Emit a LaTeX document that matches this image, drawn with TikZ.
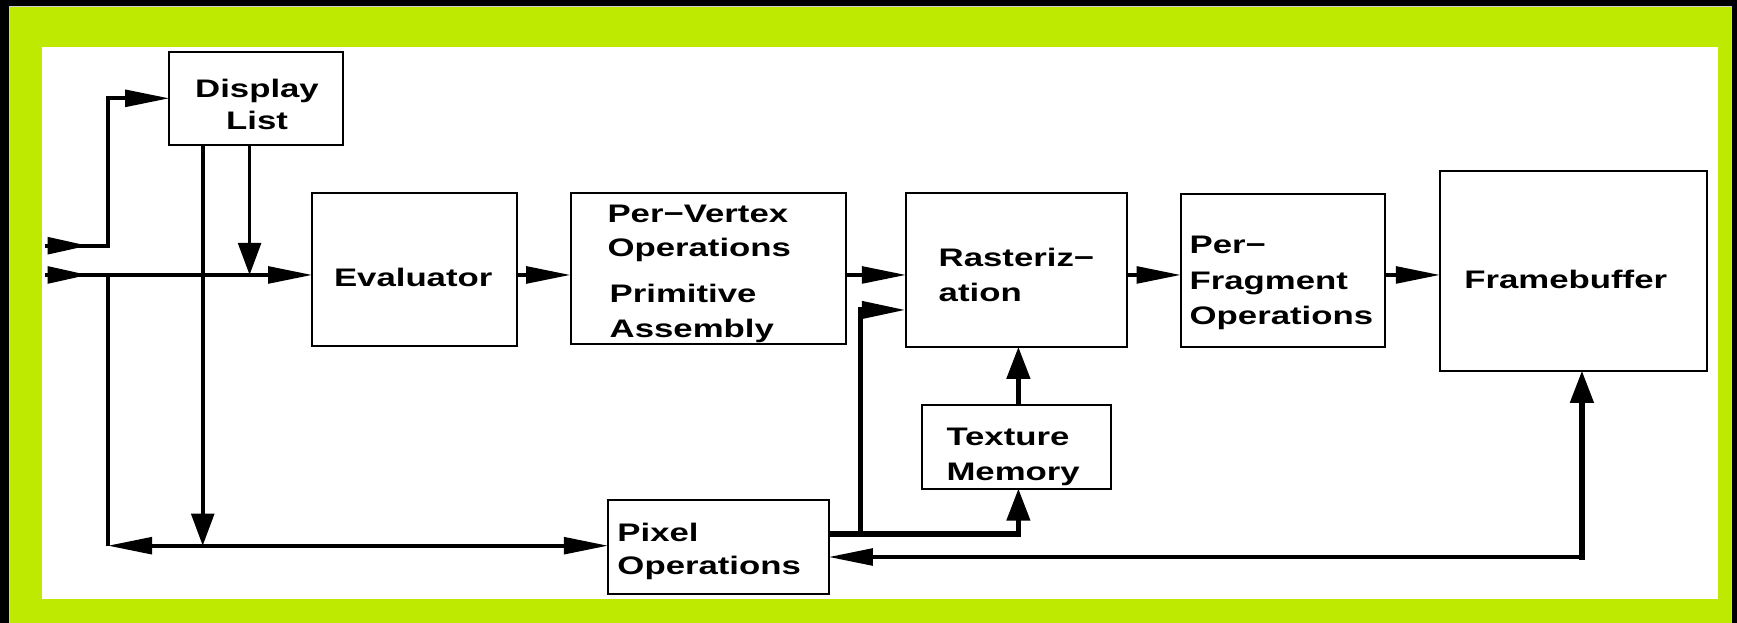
\documentclass[tikz,border=0pt]{standalone}
\usepackage{fontspec}
\newfontfamily\dfont[FakeStretch=1.37]{Liberation Sans}
\usetikzlibrary{arrows.meta}
\definecolor{lime}{RGB}{190,233,0}
\tikzset{
  harr/.tip={Triangle[length=20pt,width=7.5pt]},
  varr/.tip={Triangle[length=14.5pt,width=10.25pt]},
  inarr/.tip={Triangle[length=18.25pt,width=7.5pt]},
}
\begin{document}
\begin{tikzpicture}[x=0.5pt,y=-0.5pt,
  box/.style={draw,line width=0.9pt,anchor=north west,inner sep=0pt,outer sep=0pt},
  lbl/.style={anchor=base west,inner sep=0pt,font={\dfont\bfseries\fontsize{11.45pt}{14pt}\selectfont}},
  lblc/.style={lbl,anchor=base},
  ln/.style={line width=1.7pt},
  tk/.style={line width=2.4pt}]
\useasboundingbox (0,0) rectangle (1568,562);
% background frame
\fill[black] (0,0) rectangle (1568,562);
\fill[lime,draw=black!20,line width=0.4pt] (8.5,6.2) rectangle (1563,566);
\fill[white] (38,42) rectangle (1550.5,541);
% boxes
\node[box,minimum width=78.5pt,minimum height=42.25pt] (dl) at (153,46.5) {};
\node[box,minimum width=92.5pt,minimum height=69pt] (ev) at (282,174) {};
\node[box,minimum width=124.5pt,minimum height=68.25pt] (pv) at (515,174) {};
\node[box,minimum width=99.5pt,minimum height=69.25pt] (ra) at (818,174.5) {};
\node[box,minimum width=92pt,minimum height=69pt] (pf) at (1066,175) {};
\node[box,minimum width=120.5pt,minimum height=90.3pt] (fb) at (1300,154) {};
\node[box,minimum width=85.5pt,minimum height=37.5pt] (tm) at (832,366) {};
\node[box,minimum width=99.5pt,minimum height=42.5pt] (po) at (549,451) {};
% labels
\node[lblc] (t1) at (232,88) {Display};
\node[lblc] (t2) at (232,116.5) {List};
\node[lblc] (t3) at (373,258.8) {Evaluator};
\node[lbl] (t4) at (548,200.7) {Per−Vertex};
\node[lbl] (t5) at (548,231.7) {Operations};
\node[lbl] (t6) at (550,273.2) {Primitive};
\node[lbl] (t7) at (550,304.8) {Assembly};
\node[lbl] (t8) at (847,240.7) {Rasteriz−};
\node[lbl] (t9) at (847,272.3) {ation};
\node[lbl] (t10) at (1073.5,228.7) {Per−};
\node[lbl] (t11) at (1073.5,261.2) {Fragment};
\node[lbl] (t12) at (1073.5,292.8) {Operations};
\node[lbl] (t13) at (1321.5,260.3) {Framebuffer};
\node[lbl] (t14) at (854,401.7) {Texture};
\node[lbl] (t15) at (854,433.3) {Memory};
\node[lbl] (t16) at (557,488.4) {Pixel};
\node[lbl] (t17) at (557,519) {Operations};
% coordinates
\coordinate (inA) at (41,221.8);
\coordinate (inAtip) at (79.5,221.8);
\coordinate (cA) at (97.3,221.8);
\coordinate (inB) at (41,248.2);
\coordinate (inBtip) at (79.5,248.2);
\coordinate (bot) at (97.3,492.6);
\coordinate (dA) at (183,0);
\coordinate (dB) at (225.3,0);
\coordinate (pr) at (777,482);
\coordinate (r2) at (777,279.8);
\coordinate (tx) at (919.3,482);
\coordinate (rc) at (1428,502.8);
% connectors
\draw[ln,-harr] (inA) -- (cA) |- (dl.west);
\draw[ln,-inarr] (inA) -- (inAtip);
\draw[ln,-harr] (inB) -- (ev.west |- inB);
\draw[ln,-inarr] (inB) -- (inBtip);
\draw[ln] (cA |- inB) -- (bot);
\draw[ln,-varr] (dl.south -| dB) -- (inB -| dB);
\draw[ln,-varr] (dl.south -| dA) -- (bot -| dA);
\draw[ln,harr-harr] (bot) -- (po.west |- bot);
\draw[ln,-harr] (ev.east |- inB) -- (pv.west |- inB);
\draw[ln,-harr] (pv.east |- inB) -- (ra.west |- inB);
\draw[ln,-harr] (ra.east |- inB) -- (pf.west |- inB);
\draw[ln,-harr] (pf.east |- inB) -- (fb.west |- inB);
\draw[tk,-harr] (po.east |- pr) -- (pr) -- (r2) -- (ra.west |- r2);
\draw[tk,-varr] (po.east |- pr) -- (tx) -- (tm.south -| tx);
\draw[tk,-varr] (tm.north -| tx) -- (ra.south -| tx);
\draw[ln,-harr] (rc) -- (po.east |- rc);
\draw[tk,-varr,line cap=rect] (rc) -- (fb.south -| rc);
\end{tikzpicture}
\end{document}
